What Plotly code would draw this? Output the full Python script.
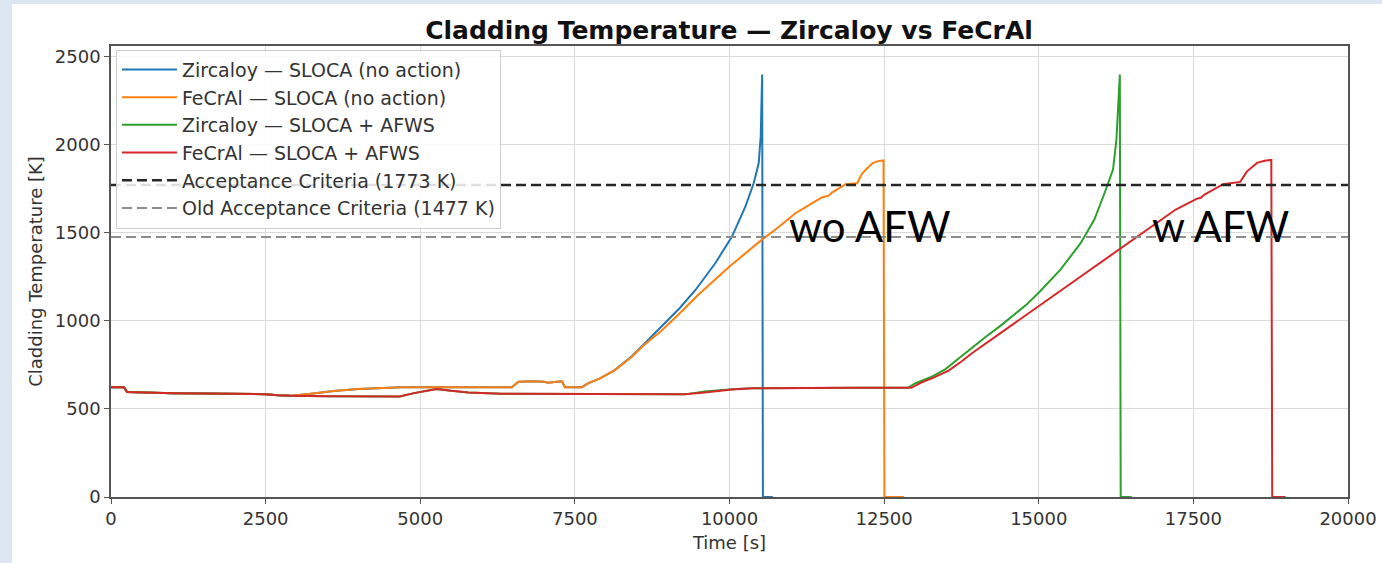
import plotly.graph_objects as go

# ---------------- data ----------------
# Zircaloy — SLOCA (no action)
t_zr_na = [0, 210, 260, 500, 1000, 1500, 2000, 2500, 2700, 2900, 3200, 3600, 4000, 4300, 4700,
           5500, 6000, 6478, 6590, 6800, 7000, 7070, 7200, 7290, 7340, 7610, 7720, 7900, 8146,
           8421, 8600, 8900, 9200, 9450, 9770, 10040, 10256, 10391, 10472, 10505, 10520, 10528,
           10540, 10700]
T_zr_na = [623, 623, 596, 593, 589, 588, 587, 584, 578, 575, 585, 602, 613, 619, 623,
           623, 623, 623, 655, 658, 655, 649, 655, 657, 623, 623, 647, 672, 721,
           800, 862, 968, 1075, 1176, 1328, 1479, 1649, 1782, 1896, 2050, 2250, 2400,
           0, 0]

# FeCrAl — SLOCA (no action)
t_fe_na = [0, 210, 260, 500, 1000, 1500, 2000, 2500, 2700, 2900, 3200, 3600, 4000, 4300, 4700,
           5500, 6000, 6478, 6590, 6800, 7000, 7070, 7200, 7290, 7340, 7610, 7720, 7900, 8146,
           8421, 8600, 8900, 9200, 9500, 10000, 10500, 10800, 11066, 11336, 11500, 11606, 11650,
           11876, 12065, 12146, 12308, 12400, 12490, 12505, 12820]
T_fe_na = [623, 623, 596, 593, 589, 588, 587, 584, 578, 575, 585, 602, 613, 619, 623,
           623, 623, 623, 655, 658, 655, 649, 655, 657, 623, 623, 647, 672, 721,
           797, 858, 945, 1045, 1150, 1309, 1455, 1535, 1612, 1669, 1703, 1712, 1728,
           1777, 1782, 1839, 1896, 1908, 1912, 0, 0]

# Zircaloy — SLOCA + AFWS
t_zr_af = [0, 210, 260, 500, 1000, 1500, 2000, 2500, 2700, 2900, 3500, 4000, 4669, 4900, 5100,
           5263, 5500, 5777, 6316, 7000, 8000, 9279, 9600, 9717, 10040, 10364, 11000, 12000,
           12884, 13000, 13250, 13487, 13700, 13925, 14150, 14364, 14803, 15022, 15351, 15680,
           15899, 16064, 16201, 16256, 16283, 16311, 16325, 16505]
T_zr_af = [623, 623, 596, 593, 589, 588, 587, 584, 578, 575, 572, 571, 571, 590, 605,
           614, 603, 593, 586, 585, 584, 583, 600, 604, 612, 618, 620, 620,
           620, 645, 680, 725, 785, 850, 912, 968, 1093, 1169, 1292, 1443,
           1576, 1727, 1860, 2030, 2220, 2400, 0, 0]

# FeCrAl — SLOCA + AFWS
t_fe_af = [0, 210, 260, 500, 1000, 1500, 2000, 2500, 2700, 2900, 3500, 4000, 4669, 4900, 5100,
           5263, 5500, 5777, 6316, 7000, 8000, 9279, 9600, 10040, 10364, 11000, 12000,
           12939, 13100, 13300, 13542, 13750, 13925, 14364, 14803, 15022, 15461, 15899, 16338,
           16776, 17215, 17560, 17620, 17680, 17982, 18257, 18367, 18531, 18650, 18760, 18775,
           18990]
T_fe_af = [623, 623, 596, 593, 589, 588, 587, 584, 578, 575, 572, 571, 571, 590, 605,
           614, 603, 593, 586, 585, 584, 583, 593, 610, 618, 620, 620,
           620, 650, 678, 718, 770, 818, 927, 1036, 1090, 1199, 1307, 1416,
           1525, 1633, 1695, 1700, 1718, 1777, 1790, 1850, 1898, 1910, 1915, 0,
           0]

acc_T = 1773
old_T = 1477
t_span = [0, 20000]

series_names = ["Zircaloy — SLOCA (no action)", "FeCrAl — SLOCA (no action)",
                "Zircaloy — SLOCA + AFWS", "FeCrAl — SLOCA + AFWS",
                "Acceptance Criteria (1773 K)", "Old Acceptance Criteria (1477 K)"]

x_ticks = [0, 2500, 5000, 7500, 10000, 12500, 15000, 17500, 20000]
y_ticks = [0, 500, 1000, 1500, 2000, 2500]

# ---------------- figure ----------------
W, H = 1382, 563
ML, MR, MT, MB = 111, 34, 46, 66
PW, PH = W - ML - MR, H - MT - MB

colors = ["#1f77b4", "#ff7f0e", "#2ca02c", "#d62728"]
curves = [(t_zr_na, T_zr_na), (t_fe_na, T_fe_na), (t_zr_af, T_zr_af), (t_fe_af, T_fe_af)]

fig = go.Figure()
for (tx, ty), name, c in zip(curves, series_names[:4], colors):
    fig.add_trace(go.Scatter(x=tx, y=ty, mode="lines", name=name,
                             line=dict(color=c, width=2)))

fig.add_trace(go.Scatter(x=t_span, y=[acc_T, acc_T], mode="lines", name=series_names[4],
                         line=dict(color="#262626", width=2.5, dash="10px,5px")))
fig.add_trace(go.Scatter(x=t_span, y=[old_T, old_T], mode="lines", name=series_names[5],
                         line=dict(color="#8c8c8c", width=2, dash="10px,5px")))

def px_x(p):
    return (p - ML) / PW

def px_y(p):
    return (H - MB - p) / PH

# white panel over light-blue frame
fig.add_shape(type="rect", xref="paper", yref="paper",
              x0=px_x(12), x1=px_x(W + 5), y0=px_y(H + 5), y1=px_y(4),
              fillcolor="white", line=dict(width=0), layer="below")

font_main = "DejaVu Sans"
axis_common = dict(showline=True, mirror=True, linecolor="#555555", linewidth=1.5,
                   ticks="outside", ticklen=5, tickcolor="#555555", tickwidth=1.2,
                   showgrid=True, gridcolor="#dadada", gridwidth=1, zeroline=False,
                   tickfont=dict(family=font_main, size=18, color="#333333"),
                   automargin=False)

fig.update_xaxes(range=t_span, tickvals=x_ticks, ticktext=[str(v) for v in x_ticks],
                 title=dict(text="Time [s]", font=dict(family=font_main, size=18, color="#333333"),
                            standoff=8),
                 **axis_common)
fig.update_yaxes(range=[0, 2562], tickvals=y_ticks, ticktext=[str(v) for v in y_ticks],
                 title=dict(text="Cladding Temperature [K]",
                            font=dict(family=font_main, size=18, color="#333333"), standoff=8),
                 **axis_common)

fig.update_layout(
    width=W, height=H, template="none",
    margin=dict(l=ML, r=MR, t=MT, b=MB, pad=0),
    paper_bgcolor="#dde7f2", plot_bgcolor="white",
    title=dict(text="<b>Cladding Temperature — Zircaloy vs FeCrAl</b>",
               font=dict(family=font_main, size=25, color="#111111"),
               x=(729) / W, xanchor="center", y=1 - 30 / H, yanchor="middle", yref="container"),
    legend=dict(x=0.004, y=0.992, xanchor="left", yanchor="top",
                bgcolor="rgba(255,255,255,0.85)", bordercolor="#cccccc", borderwidth=1,
                font=dict(family=font_main, size=19, color="#333333"), itemwidth=55,
                tracegroupgap=0),
    showlegend=True,
)

# overlay labels
fig.add_annotation(x=10930, y=1540, xref="x", yref="y", text="wo AFW", showarrow=False,
                   xanchor="left", yanchor="middle",
                   font=dict(family="Lato", size=42, color="black"))
fig.add_annotation(x=16800, y=1540, xref="x", yref="y", text="w AFW", showarrow=False,
                   xanchor="left", yanchor="middle",
                   font=dict(family="Lato", size=42, color="black"))

fig.write_html("out.html")
